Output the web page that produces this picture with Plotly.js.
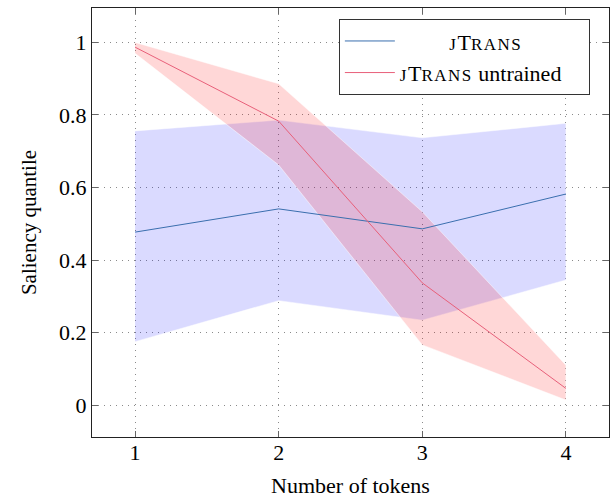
<!DOCTYPE html>
<html>
<head>
<meta charset="utf-8">
<script src="https://cdn.plot.ly/plotly-3.0.1.min.js"></script>
<style>html,body{margin:0;padding:0;background:#fff;}</style>
</head>
<body>
<div id="chart" style="width:613px;height:498px;"></div>
<script>
const tokens = [1, 2, 3, 4];
const jtransMean = [0.477, 0.541, 0.486, 0.582];
const jtransUpper = [0.756, 0.786, 0.737, 0.777];
const jtransLower = [0.175, 0.288, 0.234, 0.345];
const untrainedMean = [0.987, 0.783, 0.337, 0.046];
const untrainedUpper = [1.0, 0.886, 0.533, 0.11];
const untrainedLower = [0.97, 0.662, 0.166, 0.014];
const xTicks = [1, 2, 3, 4];
const yTicks = [0, 0.2, 0.4, 0.6, 0.8, 1];
const yTickLabels = ['0', '0.2', '0.4', '0.6', '0.8', '1'];

const sc = s => '<span style="font-size:17px;letter-spacing:1.5px">' + s + '</span>';
const jtransName = '\u00a0\u00a0\u00a0\u00a0\u00a0\u00a0\u00a0\u00a0\u00a0' + sc('J') + 'T' + sc('RANS');
const untrainedName = sc('J') + 'T' + sc('RANS') + ' untrained\u00a0\u00a0\u00a0\u00a0';

function band(upper, lower, color) {
  return {
    x: tokens.concat(tokens.slice().reverse()),
    y: upper.concat(lower.slice().reverse()),
    type: 'scatter', mode: 'lines', fill: 'toself',
    fillcolor: color, line: {color: 'rgba(255,255,255,0.6)', width: 0.8},
    showlegend: false, hoverinfo: 'skip'
  };
}

const data = [
  band(jtransUpper, jtransLower, 'rgba(0,0,255,0.145)'),
  band(untrainedUpper, untrainedLower, 'rgba(255,0,0,0.155)'),
  {x: tokens, y: jtransMean, type: 'scatter', mode: 'lines', name: jtransName,
   line: {color: '#3a6fae', width: 1}},
  {x: tokens, y: untrainedMean, type: 'scatter', mode: 'lines', name: untrainedName,
   line: {color: '#e8607a', width: 1}}
];

const axisCommon = {
  showline: true, linecolor: '#222', linewidth: 1.2, mirror: 'ticks',
  ticks: 'inside', ticklen: 6, tickcolor: '#666', tickwidth: 1,
  showgrid: true, gridcolor: '#8a8a8a', griddash: '1px,5px', gridwidth: 1,
  zeroline: false,
  tickfont: {family: 'Liberation Serif', size: 22, color: '#000'}
};

const layout = {
  width: 613, height: 498,
  margin: {l: 92, r: 4, t: 8, b: 61},
  paper_bgcolor: '#fff', plot_bgcolor: '#fff',
  font: {family: 'Liberation Serif', color: '#000'},
  xaxis: Object.assign({}, axisCommon, {
    range: [0.7, 4.3], tickvals: xTicks, ticktext: xTicks.map(String),
    ticklabelstandoff: -5,
    title: {text: 'Number of tokens', font: {family: 'Liberation Serif', size: 22}, standoff: 14}
  }),
  yaxis: Object.assign({}, axisCommon, {
    range: [-0.088, 1.095], tickvals: yTicks, ticktext: yTickLabels,
    ticklabelstandoff: 0,
    title: {text: 'Saliency quantile', font: {family: 'Liberation Serif', size: 21}, standoff: 16}
  }),
  legend: {
    x: 0.963, y: 0.974, xanchor: 'right', yanchor: 'top',
    bgcolor: '#fff', bordercolor: '#333', borderwidth: 1,
    font: {family: 'Liberation Serif', size: 22, color: '#000'},
    tracegroupgap: 0, itemwidth: 50
  },
  showlegend: true
};

Plotly.newPlot('chart', data, layout, {displayModeBar: false, staticPlot: true});
</script>
</body>
</html>
